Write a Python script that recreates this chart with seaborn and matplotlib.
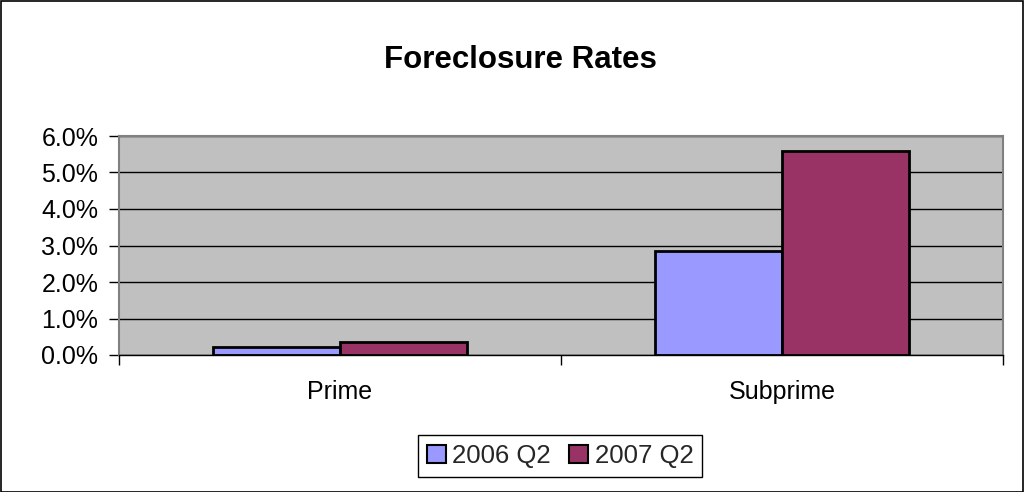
import matplotlib
matplotlib.use("Agg")
import matplotlib.pyplot as plt
import seaborn as sns
import pandas as pd
from matplotlib.ticker import FuncFormatter, FixedLocator
from matplotlib.patches import Rectangle

categories = ["Prime", "Subprime"]
series_names = ["2006 Q2", "2007 Q2"]
rates_2006 = [0.0023, 0.0286]
rates_2007 = [0.0035, 0.0558]
colors = ["#9999FF", "#993366"]
title = "Foreclosure Rates"

df = pd.DataFrame({
    "category": categories * 2,
    "series": [series_names[0]] * len(categories) + [series_names[1]] * len(categories),
    "rate": rates_2006 + rates_2007,
})

sns.set_theme(style="white")
plt.rcParams["font.family"] = ["Liberation Sans", "DejaVu Sans"]

fig = plt.figure(figsize=(10.24, 4.92), dpi=100)
ax = fig.add_axes([119/1024, 1 - 355/492, (1003 - 119)/1024, (355 - 136)/492])

sns.barplot(data=df, x="category", y="rate", hue="series", order=categories,
            hue_order=series_names, palette=colors, width=0.573, gap=0,
            edgecolor="black", linewidth=2, saturation=1, ax=ax, legend=False,
            zorder=3)

ax.set_facecolor("#C0C0C0")
ax.set_xlim(-0.5, 1.5)
ax.set_ylim(0, 0.06)
ax.yaxis.set_major_locator(FixedLocator([0, 0.01, 0.02, 0.03, 0.04, 0.05, 0.06]))
ax.yaxis.set_major_formatter(FuncFormatter(lambda v, p: f"{v*100:.1f}%"))
ax.grid(axis="y", color="black", linewidth=1, zorder=1)
ax.set_axisbelow(True)
ax.set_xlabel("")
ax.set_ylabel("")

ax.set_xticks([0, 1])
ax.set_xticklabels(categories)
ax.set_xticks([-0.5, 0.5, 1.5], minor=True)
ax.tick_params(axis="x", which="major", length=0, labelsize=18, pad=18, colors="black")
ax.tick_params(axis="x", which="minor", length=7, width=1, direction="out", color="black", bottom=True)
ax.tick_params(axis="y", which="major", length=7, width=1, direction="out", color="black",
               labelsize=18, pad=8, left=True, labelcolor="black")

for s in ["top", "right", "left"]:
    ax.spines[s].set_color("#808080")
    ax.spines[s].set_linewidth(1.5)
    ax.spines[s].set_visible(True)
ax.spines["bottom"].set_color("black")
ax.spines["bottom"].set_linewidth(1)
ax.spines["bottom"].set_zorder(5)

fig.text(520/1024, 1 - 60/492, title, ha="center", va="center",
         fontsize=22.5, fontweight="bold", color="black")

handles = [Rectangle((0, 0), 1, 1, facecolor=c, edgecolor="black", linewidth=1.5) for c in colors]
leg = fig.legend(handles, series_names, loc="center", bbox_to_anchor=(560/1024, 1 - 456/492),
                 ncol=2, fontsize=18.5, frameon=True, fancybox=False, edgecolor="black",
                 framealpha=1, handlelength=0.75, handleheight=0.75, handletextpad=0.25,
                 columnspacing=0.7, borderpad=0.35, borderaxespad=0)
leg.get_frame().set_linewidth(1)

fig.patches.append(Rectangle((0.5/1024, 0.5/492), 1 - 1.5/1024, 1 - 1.5/492,
                             transform=fig.transFigure, fill=False, edgecolor="black",
                             linewidth=1.2, zorder=10))

fig.savefig("out.png", dpi=100, facecolor="white")
